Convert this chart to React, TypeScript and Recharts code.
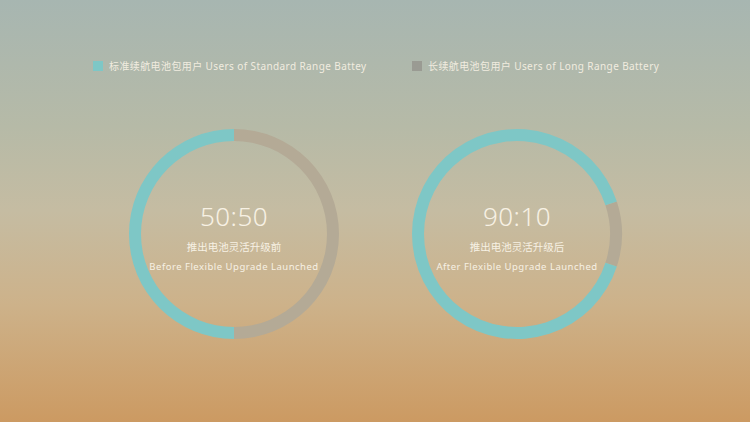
import { PieChart, Pie, Cell, Legend, Customized } from 'recharts';

// legend entries and ring shares (standard vs long range)
const categories = ['标准续航电池包用户 Users of Standard Range Battey', '长续航电池包用户 Users of Long Range Battery'];
const standardShare = [50, 90];
const longShare = [50, 10];
const centerTitles = ['50:50', '90:10'];
const zhCaptions = ['推出电池灵活升级前', '推出电池灵活升级后'];
const enCaptions = ['Before Flexible Upgrade Launched', 'After Flexible Upgrade Launched'];

const TEAL = '#7ec7c6';
const GREY = '#b4aa96';
const LEGEND_COLORS = [TEAL, '#9a9b93'];
const TEXT = '#f7f1e4';
const FONT = '"Noto Sans", "Noto Sans CJK SC", sans-serif';

const centersX = [234, 517];
const CY = 234;

function CenterTexts() {
  return (
    <g fontFamily={FONT} fill={TEXT} textAnchor="middle">
      {centersX.map((cx, i) => (
        <g key={i}>
          <text x={cx} y={CY - 8} fontSize={26} fontWeight={300} letterSpacing={0.5}>{centerTitles[i]}</text>
          <text x={cx} y={CY + 17} fontSize={10.5}>{zhCaptions[i]}</text>
          <text x={cx} y={CY + 36} fontSize={9.5} letterSpacing={0.5}>{enCaptions[i]}</text>
        </g>
      ))}
    </g>
  );
}

function LegendContent() {
  const xs = [93, 412];
  return (
    <div style={{ position: 'relative', height: 20, fontFamily: FONT }}>
      {categories.map((c, i) => (
        <div key={c} style={{ position: 'absolute', left: xs[i], top: 0, display: 'flex', alignItems: 'center' }}>
          <span style={{ width: 10, height: 10, background: LEGEND_COLORS[i], display: 'inline-block', marginRight: 6, borderRadius: 0, flexShrink: 0 }} />
          <span style={{ fontSize: 10, color: TEXT, letterSpacing: 0.4, whiteSpace: 'nowrap', opacity: 0.92 }}>{c}</span>
        </div>
      ))}
    </div>
  );
}

export default function App() {
  return (
    <div
      style={{
        position: 'absolute',
        left: 0,
        top: 0,
        width: 750,
        height: 422,
        background: 'linear-gradient(180deg, #a7b6b1 0%, #b6baa7 30%, #c5bca2 50%, #cdb28a 72%, #cc9a62 100%)',
      }}
    >
      <PieChart width={750} height={422} margin={{ top: 0, right: 0, bottom: 0, left: 0 }}>
        <Legend
          verticalAlign="middle"
          layout="horizontal"
          wrapperStyle={{ top: 58, left: 0, width: 750 }}
          content={<LegendContent />}
        />
        {[0, 1].map((i) => {
          const data = [
            { name: categories[1], value: longShare[i] },
            { name: categories[0], value: standardShare[i] },
          ];
          const start = (longShare[i] / (longShare[i] + standardShare[i])) * 180;
          return (
            <Pie
              key={i}
              data={data}
              dataKey="value"
              cx={centersX[i]}
              cy={CY}
              innerRadius={93}
              outerRadius={105}
              startAngle={start}
              endAngle={start - 360}
              stroke="none"
              isAnimationActive={false}
            >
              <Cell fill={GREY} />
              <Cell fill={TEAL} />
            </Pie>
          );
        })}
        <Customized component={<CenterTexts />} />
      </PieChart>
    </div>
  );
}
